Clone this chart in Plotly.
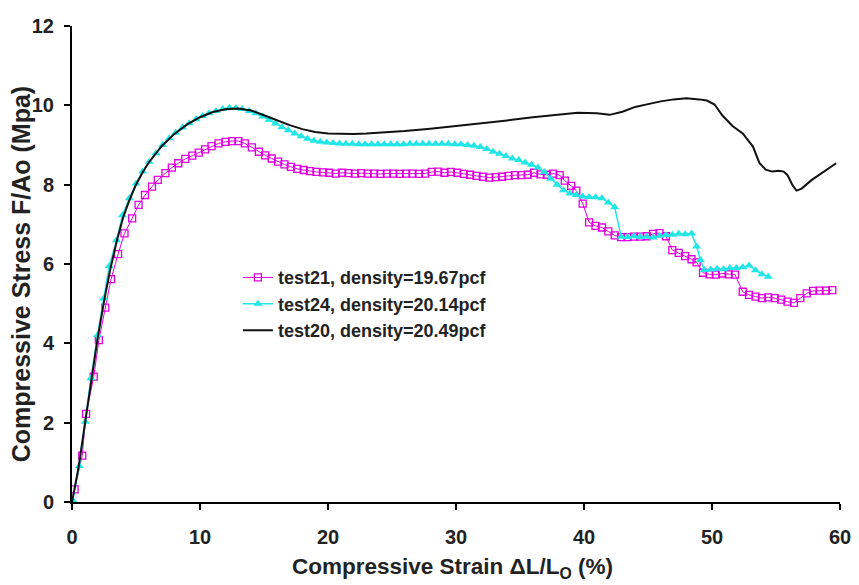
import plotly.graph_objects as go

# ---- data ----
t21_x = [0.2, 0.8, 1.1, 1.7, 2.1, 2.6, 3.05, 3.6, 4.1, 4.7, 5.2, 5.7, 6.25, 6.7, 7.3, 7.8, 8.3, 8.85, 9.4, 9.9,
         10.4, 10.9, 11.45, 12.0, 12.5, 13.0, 13.5, 14.05, 14.6, 15.1, 15.6, 16.1, 16.6, 17.1, 17.6, 18.1, 18.6,
         19.1, 19.6, 20.1, 20.6, 21.1, 21.6, 22.1, 22.6, 23.1, 23.6, 24.1, 24.6, 25.1, 25.6, 26.1, 26.6, 27.1,
         27.6, 28.1, 28.6, 29.1, 29.6, 30.1, 30.6, 31.1, 31.6, 32.1, 32.6, 33.1, 33.6, 34.1, 34.6, 35.1, 35.6,
         36.1, 36.6, 37.1, 37.6, 38.1, 38.5, 39.0, 39.4, 39.9, 40.4, 40.9, 41.4, 41.9, 42.4, 42.9, 43.4, 43.9,
         44.4, 44.9, 45.4, 45.9, 46.4, 46.9, 47.4, 47.9, 48.4, 48.8, 49.3, 49.8, 50.3, 50.8, 51.3, 51.8, 52.4,
         52.9, 53.4, 53.9, 54.4, 54.9, 55.4, 55.9, 56.4, 56.9, 57.4, 57.9, 58.4, 58.9, 59.4]
t21_y = [0.32, 1.17, 2.22, 3.16, 4.08, 4.9, 5.62, 6.25, 6.77, 7.15, 7.49, 7.74, 7.95, 8.12, 8.29, 8.43, 8.54, 8.65,
         8.73, 8.81, 8.89, 8.97, 9.04, 9.08, 9.1, 9.1, 9.04, 8.94, 8.83, 8.74, 8.66, 8.58, 8.51, 8.45, 8.4, 8.37,
         8.34, 8.32, 8.31, 8.3, 8.28, 8.3, 8.29, 8.28, 8.29, 8.28, 8.28, 8.27, 8.28, 8.28, 8.27, 8.28, 8.28, 8.27,
         8.28, 8.32, 8.33, 8.3, 8.32, 8.3, 8.27, 8.25, 8.22, 8.2, 8.18, 8.19, 8.2, 8.22, 8.24, 8.24, 8.25, 8.3,
         8.26, 8.25, 8.28, 8.24, 8.1, 7.97, 7.85, 7.52, 7.05, 6.96, 6.92, 6.82, 6.72, 6.68, 6.68, 6.69, 6.69, 6.7,
         6.76, 6.78, 6.7, 6.35, 6.28, 6.2, 6.12, 6.04, 5.78, 5.74, 5.73, 5.76, 5.74, 5.73, 5.3, 5.22, 5.18, 5.14,
         5.16, 5.14, 5.1, 5.05, 5.02, 5.14, 5.26, 5.32, 5.33, 5.33, 5.34]

t24_x = [0.05, 0.57, 1.04, 1.48, 2.0, 2.47, 2.91, 3.48, 3.95, 4.48, 5.0, 5.52, 6.04, 6.56, 7.08, 7.6, 8.1, 8.64,
         9.16, 9.69, 10.2, 10.7, 11.25, 11.77, 12.3, 12.8, 13.3, 13.85, 14.36, 14.9, 15.4, 15.9, 16.4, 16.9, 17.4,
         17.9, 18.4, 18.9, 19.4, 19.9, 20.4, 20.9, 21.4, 21.9, 22.4, 22.9, 23.4, 23.9, 24.4, 24.9, 25.4, 25.9,
         26.4, 26.9, 27.4, 27.9, 28.4, 28.9, 29.4, 29.9, 30.4, 30.9, 31.4, 31.9, 32.4, 32.9, 33.4, 33.9, 34.4,
         34.9, 35.4, 35.9, 36.4, 36.9, 37.4, 37.9, 38.4, 38.9, 39.4, 39.9, 40.4, 40.9, 41.4, 41.9, 42.4, 42.9,
         43.4, 43.9, 44.4, 44.9, 45.4, 45.9, 46.4, 46.9, 47.4, 47.9, 48.4, 48.8, 49.1, 49.4, 49.9, 50.4, 50.9,
         51.4, 51.9, 52.4, 52.9, 53.4, 53.9, 54.4]
t24_y = [0.05, 0.91, 2.02, 3.12, 4.21, 5.13, 5.95, 6.6, 7.23, 7.66, 8.03, 8.33, 8.58, 8.79, 9.0, 9.17, 9.31, 9.44,
         9.55, 9.65, 9.73, 9.8, 9.86, 9.91, 9.94, 9.93, 9.91, 9.86, 9.8, 9.72, 9.63, 9.54, 9.45, 9.37, 9.29, 9.22,
         9.16, 9.11, 9.08, 9.06, 9.05, 9.04, 9.03, 9.03, 9.02, 9.02, 9.02, 9.02, 9.02, 9.02, 9.02, 9.02, 9.03,
         9.03, 9.03, 9.03, 9.03, 9.03, 9.03, 9.02, 9.02, 9.0, 8.98, 8.95, 8.9, 8.83, 8.78, 8.72, 8.66, 8.62, 8.56,
         8.5, 8.43, 8.32, 8.15, 8.0, 7.86, 7.78, 7.74, 7.7, 7.69, 7.68, 7.66, 7.55, 7.43, 6.69, 6.68, 6.7, 6.68,
         6.69, 6.67, 6.71, 6.73, 6.74, 6.76, 6.75, 6.77, 6.44, 6.1, 5.85, 5.86, 5.88, 5.87, 5.9, 5.9, 5.92, 5.96,
         5.84, 5.74, 5.68]

t20_x = [0, 0.5, 1, 1.5, 2, 2.5, 3, 3.5, 4, 4.5, 5, 5.5, 6, 7, 8, 9, 10, 11, 12, 13, 14, 15, 16, 17, 18, 19, 20,
         21, 22, 23, 24, 26, 28, 30, 32, 34, 36, 38, 39.5, 41, 42, 43, 44, 45, 46, 47, 48, 49, 49.6, 50.2, 50.8,
         51.6, 52.4, 53.2, 53.7, 54.2, 54.7, 55.2, 55.6, 55.9, 56.3, 56.6, 57, 57.8, 58.9, 59.7]
t20_y = [0, 0.85, 1.95, 3.05, 4.12, 5.05, 5.88, 6.58, 7.18, 7.62, 8.0, 8.3, 8.56, 8.97, 9.28, 9.52, 9.7, 9.83,
         9.9, 9.92, 9.87, 9.75, 9.62, 9.5, 9.4, 9.33, 9.29, 9.28, 9.28, 9.29, 9.31, 9.35, 9.41, 9.48, 9.54, 9.62,
         9.7, 9.77, 9.81, 9.8, 9.76, 9.84, 9.96, 10.03, 10.1, 10.15, 10.18, 10.15, 10.12, 10.02, 9.75, 9.48, 9.29,
         8.96, 8.55, 8.38, 8.33, 8.35, 8.33, 8.24, 7.98, 7.85, 7.9, 8.12, 8.37, 8.54]

names = ["test21, density=19.67pcf", "test24, density=20.14pcf", "test20, density=20.49pcf"]
x_ticks = [0, 10, 20, 30, 40, 50, 60]
y_ticks = [0, 2, 4, 6, 8, 10, 12]

FONT = "Liberation Sans, Arial, sans-serif"

fig = go.Figure()
fig.add_trace(go.Scatter(
    x=t21_x, y=t21_y, name=names[0], mode="lines+markers",
    line=dict(color="#e000e0", width=1),
    marker=dict(symbol="square-open", size=7, color="#e000e0", line=dict(width=1.3)),
))
fig.add_trace(go.Scatter(
    x=t24_x, y=t24_y, name=names[1], mode="lines+markers",
    line=dict(color="#22e6e6", width=1.5),
    marker=dict(symbol="triangle-up", size=8, color="#22e6e6"),
))
fig.add_trace(go.Scatter(
    x=t20_x, y=t20_y, name=names[2], mode="lines",
    line=dict(color="#111111", width=2),
))

axis_common = dict(
    showline=True, linecolor="black", linewidth=2, showgrid=False, zeroline=False,
    ticks="outside", ticklen=6, tickwidth=1.5, tickcolor="black", automargin=False,
    tickfont=dict(family=FONT, size=20, color="#222222", weight="bold"),
)
fig.update_xaxes(range=[0, 60], tickvals=x_ticks, ticklabelstandoff=10, **axis_common)
fig.update_yaxes(range=[0, 12], tickvals=y_ticks, ticklabelstandoff=6, **axis_common)

# the page body adds an 8px offset, so margins are shifted to keep the plot area in place
fig.update_layout(
    width=859, height=585,
    margin=dict(l=64, r=27, t=18, b=91),
    paper_bgcolor="white", plot_bgcolor="white",
    showlegend=True,
    legend=dict(
        x=0.216, y=0.51, xanchor="left", yanchor="top",
        bgcolor="rgba(0,0,0,0)", borderwidth=0,
        font=dict(family=FONT, size=18, color="#222222", weight="bold"),
        itemwidth=30,
    ),
    annotations=[
        dict(text="<b>Compressive Stress F/Ao (Mpa)</b>", xref="paper", yref="paper",
             x=-0.066, y=0.479, xanchor="center", yanchor="middle", textangle=-90, showarrow=False,
             font=dict(family=FONT, size=25, color="#222222")),
        dict(text="<b>Compressive Strain \u0394L/L<sub>O</sub> (%)</b>", xref="paper", yref="paper",
             x=0.495, y=-0.139, xanchor="center", yanchor="middle", showarrow=False,
             font=dict(family=FONT, size=22.5, color="#222222")),
    ],
)

fig.write_html("out.html")
